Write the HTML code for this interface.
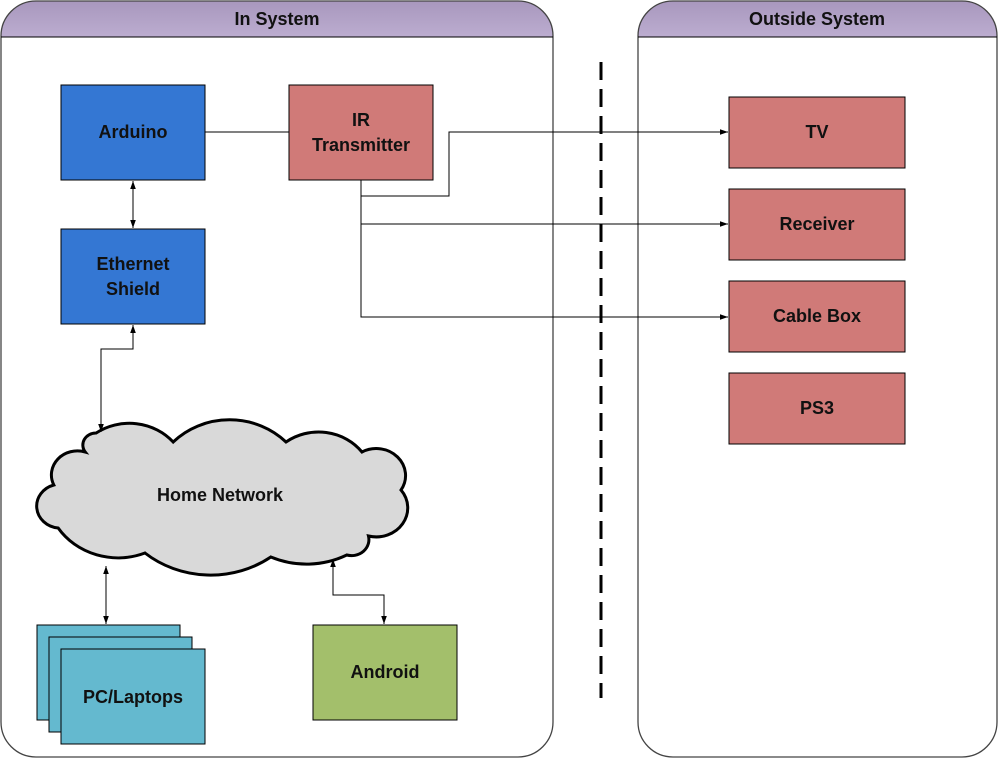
<!DOCTYPE html>
<html><head><style>body{margin:0;background:#fff}svg{display:block}text{font-family:"Liberation Sans",Arial,sans-serif;font-weight:bold;font-size:18px;fill:#111}</style></head><body>
<svg width="998" height="758" viewBox="0 0 998 758" xmlns="http://www.w3.org/2000/svg">
<defs>
<linearGradient id="hg" x1="0" y1="0" x2="0" y2="1"><stop offset="0" stop-color="#a897bd"/><stop offset="1" stop-color="#bcadd0"/></linearGradient>
<marker id="a" viewBox="0 0 10 10" refX="10" refY="5" markerWidth="8" markerHeight="8" orient="auto-start-reverse"><path d="M0,1.5 L10,5 L0,8.5z" fill="#000"/></marker>
<clipPath id="c1"><rect x="1" y="1" width="552" height="756" rx="35"/></clipPath>
<clipPath id="c2"><rect x="638" y="1" width="359" height="756" rx="35"/></clipPath>
</defs>
<g clip-path="url(#c1)"><rect x="1" y="1" width="552" height="36" fill="url(#hg)"/></g>
<rect x="1" y="1" width="552" height="756" rx="35" fill="none" stroke="#444" stroke-width="1.3"/>
<line x1="1" y1="37" x2="553" y2="37" stroke="#000"/>
<text x="277" y="25" text-anchor="middle">In System</text>
<g clip-path="url(#c2)"><rect x="638" y="1" width="359" height="36" fill="url(#hg)"/></g>
<rect x="638" y="1" width="359" height="756" rx="35" fill="none" stroke="#444" stroke-width="1.3"/>
<line x1="638" y1="37" x2="997" y2="37" stroke="#000"/>
<text x="817" y="25" text-anchor="middle">Outside System</text>
<line x1="601" y1="62" x2="601" y2="698" stroke="#000" stroke-width="3" stroke-dasharray="18,9"/>
<g stroke="#000" stroke-width="1">
<rect x="61" y="85" width="144" height="95" fill="#3477d3"/>
<rect x="61" y="229" width="144" height="95" fill="#3477d3"/>
<rect x="289" y="85" width="144" height="95" fill="#d07a78"/>
<rect x="729" y="97" width="176" height="71" fill="#d07a78"/>
<rect x="729" y="189" width="176" height="71" fill="#d07a78"/>
<rect x="729" y="281" width="176" height="71" fill="#d07a78"/>
<rect x="729" y="373" width="176" height="71" fill="#d07a78"/>
<rect x="37" y="625" width="143" height="95" fill="#64b9cf"/>
<rect x="49" y="637" width="143" height="95" fill="#64b9cf"/>
<rect x="61" y="649" width="144" height="95" fill="#64b9cf"/>
<rect x="313" y="625" width="144" height="95" fill="#a3bf6b"/>
</g>
<g transform="translate(222,0) scale(1.085,1) translate(-218,0)">
<path vector-effect="non-scaling-stroke" d="M102,433 A53,53 0 0 1 173,442 A72,72 0 0 1 277,442 A50,50 0 0 1 347,452 A27,27 0 0 1 383,490 A29,29 0 0 1 353,536 A16,16 0 0 1 333,555 A80,80 0 0 1 263,557 A94,94 0 0 1 147,553 A66,66 0 0 1 67,528 A22,22 0 0 1 63,485 A24,24 0 0 1 92,452 A12,12 0 0 1 102,433 Z" fill="#d9d9d9" stroke="#000" stroke-width="3"/>
</g>
<g stroke="#000" stroke-width="1" fill="none">
<line x1="205" y1="132" x2="289" y2="132"/>
<line x1="133" y1="181" x2="133" y2="228" marker-start="url(#a)" marker-end="url(#a)"/>
<polyline points="133,325 133,349 101,349 101,432" marker-start="url(#a)" marker-end="url(#a)"/>
<polyline points="361,196 449,196 449,132 728,132" marker-end="url(#a)"/>
<polyline points="361,180 361,317 728,317" marker-end="url(#a)"/>
<line x1="361" y1="224" x2="728" y2="224" marker-end="url(#a)"/>
<line x1="106" y1="566" x2="106" y2="624" marker-start="url(#a)" marker-end="url(#a)"/>
<polyline points="333,559 333,595 384,595 384,624" marker-start="url(#a)" marker-end="url(#a)"/>
</g>
<text x="133" y="138" text-anchor="middle">Arduino</text>
<text x="133" y="270" text-anchor="middle">Ethernet</text>
<text x="133" y="295" text-anchor="middle">Shield</text>
<text x="361" y="126" text-anchor="middle">IR</text>
<text x="361" y="151" text-anchor="middle">Transmitter</text>
<text x="817" y="138" text-anchor="middle">TV</text>
<text x="817" y="230" text-anchor="middle">Receiver</text>
<text x="817" y="322" text-anchor="middle">Cable Box</text>
<text x="817" y="414" text-anchor="middle">PS3</text>
<text x="220" y="501" text-anchor="middle">Home Network</text>
<text x="133" y="703" text-anchor="middle">PC/Laptops</text>
<text x="385" y="678" text-anchor="middle">Android</text>
</svg>
</body></html>
